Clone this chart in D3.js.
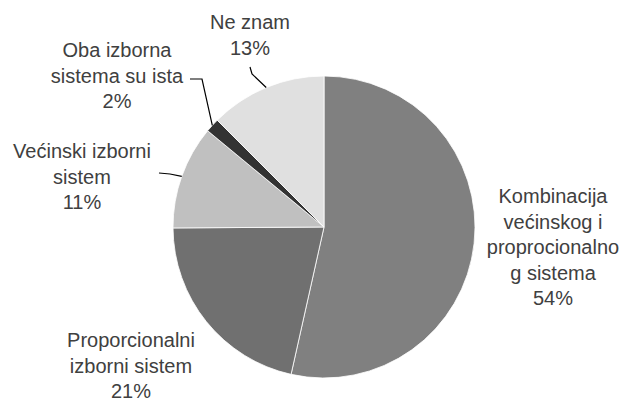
<!DOCTYPE html>
<html>
<head>
<meta charset="utf-8">
<script src="https://cdn.jsdelivr.net/npm/d3@7"></script>
<style>
  html, body { margin: 0; padding: 0; background: #fff; }
  svg { display: block; }
  text { font-family: "Liberation Sans", Arial, sans-serif; font-size: 20px; fill: #404040; }
</style>
</head>
<body>
<div id="chart"></div>
<script>
// ── Data, rounded labels shown as % ──
const categories = [
    "Kombinacija većinskog i proprocionalnog sistema",
    "Proporcionalni izborni sistem",
    "Većinski izborni sistem",
    "Oba izborna sistema su ista",
    "Ne znam"
];
const values = [53.5, 21.4, 11.1, 1.5, 12.5];
const labelLines = [
    ["Kombinacija", "većinskog i", "proprocionalno", "g sistema"],
    ["Proporcionalni", "izborni sistem"],
    ["Većinski izborni", "sistem"],
    ["Oba izborna", "sistema su ista"],
    ["Ne znam"]
];
const colors = ["#808080", "#707070", "#c0c0c0", "#333333", "#e0e0e0"];

const WIDTH = 630;
const HEIGHT = 401;
const CX = 324, CY = 227, R = 151;
const LINE_H = 25.5;

// label anchor (center x, first line center y) + leader elbow, per slice
const labelLayout = [
    { x: 553, y: 196, leader: null },
    { x: 131, y: 340, leader: null },
    { x: 82, y: 151, leader: [[159, 173], [170, 174]] },
    { x: 117, y: 50, leader: [[190, 79], [202, 79]] },
    { x: 250, y: 22, leader: [[250, 67], [252, 74]] }
];

const svg = d3.select("#chart")
    .append("svg")
    .attr("width", WIDTH)
    .attr("height", HEIGHT);

const pie = d3.pie().sort(null).value(d => d);
const arcs = pie(values);
const arc = d3.arc().innerRadius(0).outerRadius(R);

const g = svg.append("g").attr("transform", `translate(${CX},${CY})`);

g.selectAll("path.slice")
    .data(arcs)
    .enter()
    .append("path")
    .attr("class", "slice")
    .attr("d", arc)
    .attr("fill", (d, i) => colors[i])
    .attr("stroke", "#fff")
    .attr("stroke-width", 0.8);

// ── Leader lines: from elbow to outer edge at slice mid-angle ──
arcs.forEach((d, i) => {
    const lay = labelLayout[i];
    if (!lay.leader) return;
    const mid = (d.startAngle + d.endAngle) / 2;
    const edge = [CX + R * Math.sin(mid), CY - R * Math.cos(mid)];
    const pts = [...lay.leader, edge];
    svg.append("path")
        .attr("d", d3.line()(pts))
        .attr("fill", "none")
        .attr("stroke", "#000")
        .attr("stroke-width", 1.2);
});

// ── Labels ──
arcs.forEach((d, i) => {
    const lay = labelLayout[i];
    const lines = [...labelLines[i], Math.round(values[i]) + "%"];
    const t = svg.append("text")
        .attr("text-anchor", "middle");
    lines.forEach((ln, k) => {
        t.append("tspan")
            .attr("x", lay.x)
            .attr("y", lay.y + k * LINE_H)
            .attr("dy", "0.35em")
            .text(ln);
    });
});
</script>
</body>
</html>
